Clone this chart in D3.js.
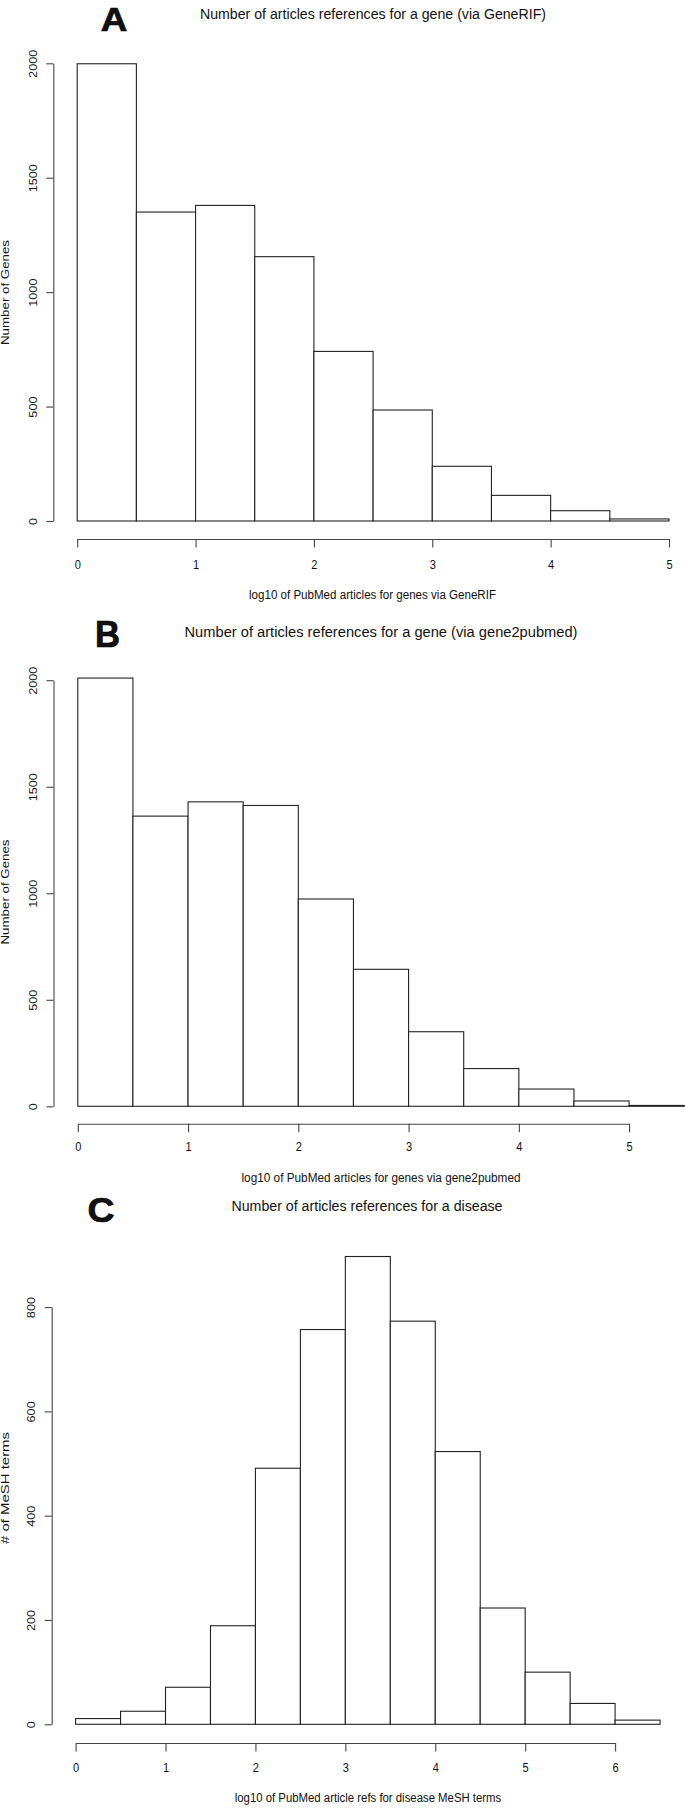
<!DOCTYPE html>
<html>
<head>
<meta charset="utf-8">
<script src="https://d3js.org/d3.v7.min.js"></script>
<style>
  html, body { margin: 0; padding: 0; background: #fff; }
  svg { display: block; }
  text { font-family: "Liberation Sans", Arial, Helvetica, sans-serif; fill: #111; }
</style>
</head>
<body>
<script>
// ---------------- data ----------------
const breaksA = [0, 0.5, 1, 1.5, 2, 2.5, 3, 3.5, 4, 4.5, 5];
const countsA = [1998, 1350, 1379, 1155, 741, 485, 239, 112, 45, 9];
const xTicksA = [0, 1, 2, 3, 4, 5];
const yTicksA = [0, 500, 1000, 1500, 2000];

const breaksB = [0, 0.5, 1, 1.5, 2, 2.5, 3, 3.5, 4, 4.5, 5, 5.5];
const countsB = [2010, 1362, 1429, 1412, 973, 643, 350, 177, 81, 25, 4];
const xTicksB = [0, 1, 2, 3, 4, 5];
const yTicksB = [0, 500, 1000, 1500, 2000];

const breaksC = [0, 0.5, 1, 1.5, 2, 2.5, 3, 3.5, 4, 4.5, 5, 5.5, 6, 6.5];
const countsC = [11, 25, 71, 189, 491, 757, 897, 773, 523, 223, 100, 40, 8];
const xTicksC = [0, 1, 2, 3, 4, 5, 6];
const yTicksC = [0, 200, 400, 600, 800];

const letters = ["A", "B", "C"];
const titles = [
  "Number of articles references for a gene (via GeneRIF)",
  "Number of articles references for a gene (via gene2pubmed)",
  "Number of articles references for a disease"
];
const xLabels = [
  "log10 of PubMed articles for genes via GeneRIF",
  "log10 of PubMed articles for genes via gene2pubmed",
  "log10 of PubMed article refs for disease MeSH terms"
];
const yLabels = ["Number of Genes", "Number of Genes", "# of MeSH terms"];

// ---------------- layout (pixels) ----------------
const layouts = [
  { x0: 77.2, x1: 669.0, xMax: 5, y0: 521.0, y1: 63.3, yMax: 2000,
    yAxisX: 53.3, yLabX: 36.7, xAxisY: 539.0, xLabDy: 30.5,
    letterX: 100.7, letterY: 30.6, letterSize: 34, letterW: 26.6,
    titleX: 373, titleY: 18.5, titleW: 346,
    xTitleX: 372.5, xTitleY: 599, xTitleW: 247,
    yTitleX: 9.4, yTitleY: 292.5, yTitleL: 105 },
  { x0: 77.8, x1: 629.1, xMax: 5, y0: 1106.3, y1: 680.2, yMax: 2000,
    yAxisX: 53.5, yLabX: 36.7, xAxisY: 1123.7, xLabDy: 27.8,
    letterX: 95.0, letterY: 646.7, letterSize: 37, letterW: 25,
    titleX: 381, titleY: 637, titleW: 393,
    xTitleX: 381, xTitleY: 1182, xTitleW: 279,
    yTitleX: 9.4, yTitleY: 892, yTitleL: 105 },
  { x0: 75.6, x1: 615.1, xMax: 6, y0: 1724.3, y1: 1307.1, yMax: 800,
    yAxisX: 51.7, yLabX: 35.0, xAxisY: 1743.0, xLabDy: 29.5,
    letterX: 87.4, letterY: 1221.5, letterSize: 35, letterW: 27,
    titleX: 367, titleY: 1211, titleW: 271,
    xTitleX: 368, xTitleY: 1802, xTitleW: 266.5,
    yTitleX: 9.4, yTitleY: 1488, yTitleL: 112 }
];

const datasets = [
  { breaks: breaksA, counts: countsA, xTicks: xTicksA, yTicks: yTicksA },
  { breaks: breaksB, counts: countsB, xTicks: xTicksB, yTicks: yTicksB },
  { breaks: breaksC, counts: countsC, xTicks: xTicksC, yTicks: yTicksC }
];

const W = 685, H = 1808;
const svg = d3.select("body").append("svg").attr("width", W).attr("height", H);
svg.append("rect").attr("width", W).attr("height", H).attr("fill", "#fff");

datasets.forEach((ds, i) => {
  const L = layouts[i];
  const x = d3.scaleLinear().domain([0, L.xMax]).range([L.x0, L.x1]);
  const y = d3.scaleLinear().domain([0, L.yMax]).range([L.y0, L.y1]);
  const g = svg.append("g");

  // bars
  const bins = ds.counts.map((c, k) => ({ lo: ds.breaks[k], hi: ds.breaks[k + 1], c }));
  g.selectAll("rect.bar").data(bins).join("rect")
    .attr("class", "bar")
    .attr("x", d => x(d.lo))
    .attr("width", d => x(d.hi) - x(d.lo))
    .attr("y", d => y(d.c))
    .attr("height", d => y(0) - y(d.c))
    .attr("fill", "#fff")
    .attr("stroke", "#222")
    .attr("stroke-width", 1.1);

  // y axis
  const ya = g.append("g").attr("transform", `translate(${L.yAxisX},0)`)
    .call(d3.axisLeft(y).tickValues(ds.yTicks).tickSize(7).tickSizeOuter(0).tickFormat(d3.format("d")));
  ya.select(".domain").attr("stroke", "#444").attr("stroke-width", 1.1);
  ya.selectAll(".tick line").attr("stroke", "#444").attr("stroke-width", 1.1);
  ya.selectAll(".tick text")
    .attr("x", null).attr("dy", null).attr("y", null)
    .attr("text-anchor", "middle")
    .attr("font-size", 12.7)
    .attr("fill", "#111")
    .attr("transform", `translate(${L.yLabX - L.yAxisX},0) rotate(-90) scale(1,0.81)`);

  // x axis
  const xa = g.append("g").attr("transform", `translate(0,${L.xAxisY})`)
    .call(d3.axisBottom(x).tickValues(ds.xTicks).tickSize(8.5).tickSizeOuter(0).tickFormat(d3.format("d")));
  xa.select(".domain").attr("stroke", "#444").attr("stroke-width", 1.1);
  xa.selectAll(".tick line").attr("stroke", "#444").attr("stroke-width", 1.1);
  xa.selectAll(".tick text")
    .attr("y", L.xLabDy).attr("dy", null)
    .attr("text-anchor", "middle")
    .attr("font-size", 13.5)
    .attr("fill", "#111")
    .attr("transform", "scale(0.82,1)");

  // panel letter
  g.append("text")
    .attr("x", L.letterX).attr("y", L.letterY)
    .attr("font-size", L.letterSize).attr("font-weight", "bold")
    .attr("textLength", L.letterW).attr("lengthAdjust", "spacingAndGlyphs")
    .attr("fill", "#000").attr("stroke", "#000").attr("stroke-width", 0.7)
    .text(letters[i]);

  // title
  g.append("text")
    .attr("x", L.titleX).attr("y", L.titleY)
    .attr("text-anchor", "middle").attr("font-size", 14)
    .attr("textLength", L.titleW).attr("lengthAdjust", "spacingAndGlyphs")
    .text(titles[i]);

  // x title
  g.append("text")
    .attr("x", L.xTitleX).attr("y", L.xTitleY)
    .attr("text-anchor", "middle").attr("font-size", 13.7)
    .attr("textLength", L.xTitleW).attr("lengthAdjust", "spacingAndGlyphs")
    .text(xLabels[i]);

  // y title
  g.append("text")
    .attr("transform", `translate(${L.yTitleX},${L.yTitleY}) rotate(-90) scale(1,0.81)`)
    .attr("text-anchor", "middle").attr("font-size", 13.3)
    .attr("textLength", L.yTitleL).attr("lengthAdjust", "spacingAndGlyphs")
    .text(yLabels[i]);
});
</script>
</body>
</html>
